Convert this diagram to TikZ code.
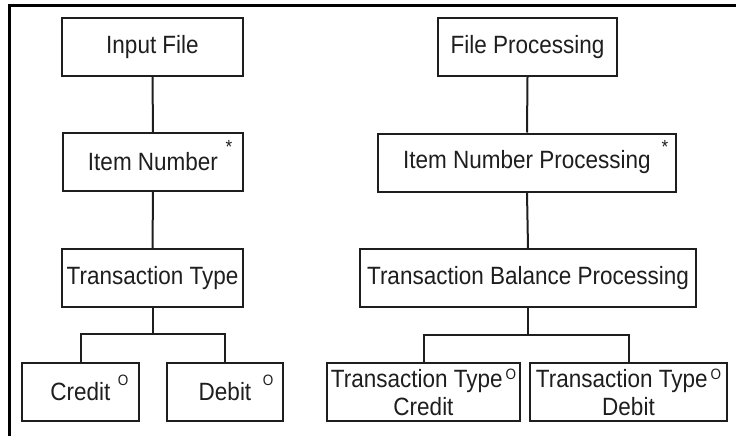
\documentclass[tikz,border=0pt]{standalone}
\usepackage{fontspec}
\newfontfamily\diagfont[FakeStretch=0.9]{Liberation Sans}
\definecolor{ink}{HTML}{1E1E1E}
\definecolor{txt}{HTML}{1E1E1E}
\newcommand{\supO}{\hspace{3pt}\raisebox{8pt}{\fontsize{15}{15}\selectfont O}}
\begin{document}
\begin{tikzpicture}[x=1pt,y=-1pt,
  box/.style={draw=ink, line width=2pt, inner sep=0pt, minimum height=58pt,
    font=\diagfont\fontsize{25}{28}\selectfont, text=txt, align=center},
  conn/.style={draw=ink, line width=2pt},
  starmark/.style={inner sep=0pt, anchor=base, text=txt, font=\diagfont\fontsize{19}{19}\selectfont},
  omark/.style={inner sep=0pt, anchor=center, text=txt, font=\diagfont\fontsize{15}{15}\selectfont},
  frameline/.style={draw=black, line width=2.8pt, line join=miter}
]
\useasboundingbox (0,0) rectangle (736,436);
% frame
\draw[frameline] (9.5,436) -- (9.5,5.5) -- (736,5.5);

% left tree
\node[box, minimum width=181pt] (inf) at (152.5,47) {Input File};
\node[box, minimum width=180pt] (itn) at (153,162) {Item Number};
\node[box, minimum width=181pt] (tt)  at (152.5,278) {Transaction Type};
\node[box, minimum width=117pt] (cr)  at (80.5,392) {Credit};
\node[box, minimum width=116pt] (db)  at (225,392) {Debit};
\node[starmark] (s1) at (229,153) {*};
\node[omark] (o1) at (123,380) {O};
\node[omark] (o2) at (268,380) {O};

% right tree
\node[box, minimum width=179pt] (fp)  at (527.5,47) {File Processing};
\node[box, minimum width=298pt] (inp) at (527,162.5) {Item Number Processing};
\node[box, minimum width=336pt] (tbp) at (528,278) {Transaction Balance Processing};
\node[box, minimum width=193pt] (ttc) at (423.5,392) {Transaction Type\supO\\Credit};
\node[box, minimum width=197pt] (ttd) at (628.5,392) {Transaction Type\supO\\Debit};
\node[starmark] (s2) at (665,153) {*};

% connectors
\coordinate (lb) at (152.5,334);
\coordinate (rb) at (528,335);
\draw[conn] (inf.south) -- (itn.north);
\draw[conn] (itn.south) -- (tt.north);
\draw[conn] (tt.south) -- (lb);
\draw[conn] (cr.north) |- (lb) -| (db.north);

\draw[conn] (fp.south) -- (inp.north);
\draw[conn] (inp.south) -- (tbp.north);
\draw[conn] (tbp.south) -- (rb);
\draw[conn] (ttc.north) |- (rb) -| (ttd.north);
\end{tikzpicture}
\end{document}
